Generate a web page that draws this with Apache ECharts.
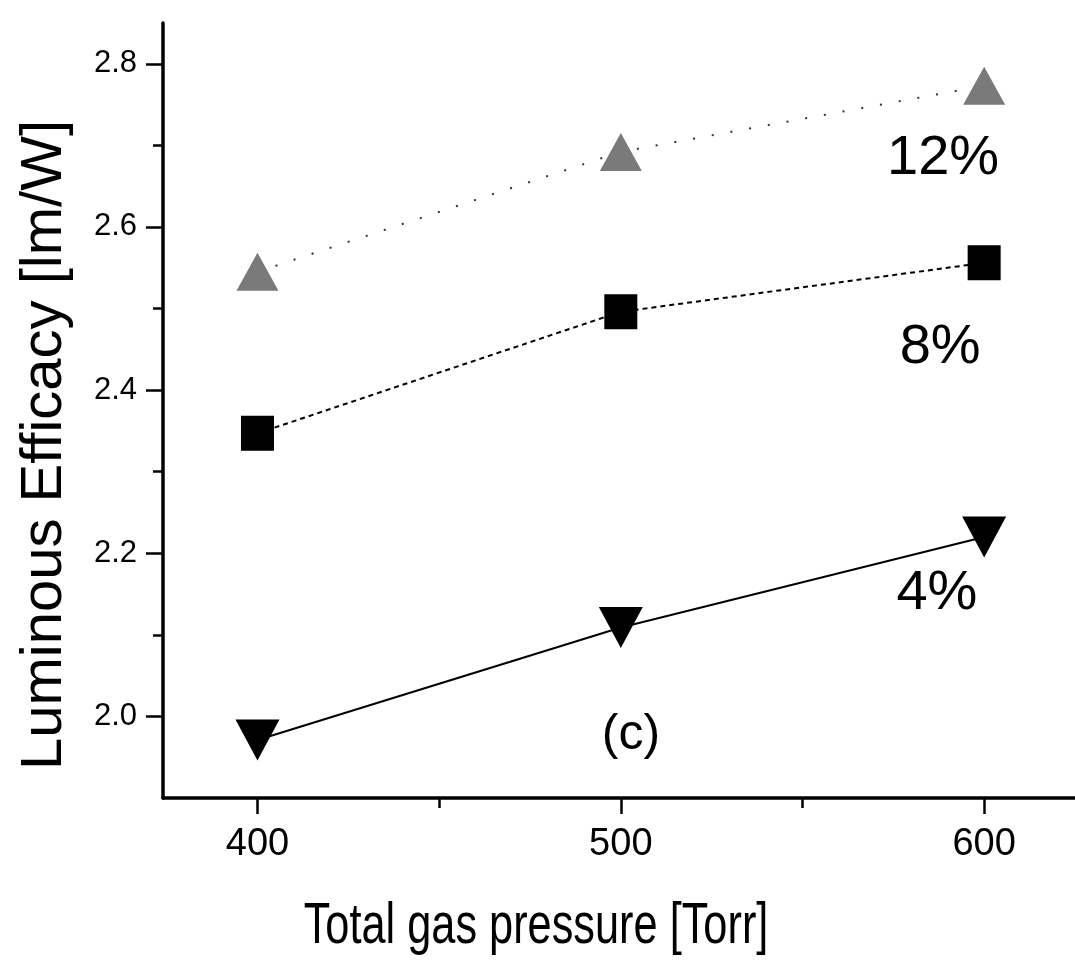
<!DOCTYPE html>
<html>
<head>
<meta charset="utf-8">
<script src="https://cdn.jsdelivr.net/npm/echarts@6/dist/echarts.min.js"></script>
<style>
  html, body { margin: 0; padding: 0; background: #fff; }
  #chart { width: 1075px; height: 964px; }
</style>
</head>
<body>
<div id="chart"></div>
<script>
(function () {
  // total gas pressure [Torr]
  const pressure = [400, 500, 600];
  // luminous efficacy [lm/W] per Xe fraction
  const eff12 = [2.545, 2.692, 2.773];
  const eff8 = [2.347, 2.496, 2.556];
  const eff4 = [1.971, 2.109, 2.220];

  const xMajorTicks = [400, 500, 600];
  const xMinorTicks = [450, 550];
  const yMajorTicks = [2.0, 2.2, 2.4, 2.6, 2.8];
  const yMinorTicks = [2.1, 2.3, 2.5, 2.7];

  // in-plot annotations (data coordinates)
  const noteText = ['12%', '8%', '4%', '(c)'];
  const noteX = [588.7, 587.9, 587.0, 502.8];
  const noteY = [2.684, 2.452, 2.150, 1.977];
  const noteSize = [56, 56, 56, 50];

  const fontFamily = '"Liberation Sans", Arial, Helvetica, sans-serif';
  const ink = '#000';

  const chart = echarts.init(document.getElementById('chart'));

  function pairs(ys) {
    return pressure.map((x, i) => [x, ys[i]]);
  }

  const xRange = { min: 374, max: 625 };
  const yRange = { min: 1.9, max: 2.85 };

  chart.setOption({
    animation: false,
    backgroundColor: '#fff',
    grid: { left: 163, right: 0, top: 23, bottom: 166, containLabel: false },
    xAxis: [
      {
        type: 'value',
        position: 'bottom',
        min: xRange.min,
        max: xRange.max,
        splitLine: { show: false },
        axisLine: { show: true, onZero: false, lineStyle: { color: ink, width: 3.5 } },
        axisTick: { show: true, customValues: xMajorTicks, length: 16, lineStyle: { color: ink, width: 2.5 } },
        axisLabel: {
          customValues: xMajorTicks,
          margin: 28,
          color: ink,
          fontSize: 38,
          fontFamily,
          formatter: (v) => String(Math.round(v)),
        },
      },
      {
        type: 'value',
        position: 'bottom',
        min: xRange.min,
        max: xRange.max,
        splitLine: { show: false },
        axisLine: { show: false, onZero: false },
        axisTick: { show: true, customValues: xMinorTicks, length: 10, lineStyle: { color: ink, width: 2.5 } },
        axisLabel: { show: false },
      },
    ],
    yAxis: [
      {
        type: 'value',
        position: 'left',
        min: yRange.min,
        max: yRange.max,
        splitLine: { show: false },
        axisLine: { show: true, onZero: false, lineStyle: { color: ink, width: 3.5 } },
        axisTick: { show: true, customValues: yMajorTicks, length: 17, lineStyle: { color: ink, width: 2.5 } },
        axisLabel: {
          customValues: yMajorTicks,
          margin: 26,
          color: ink,
          fontSize: 31,
          fontFamily,
          formatter: (v) => v.toFixed(1),
        },
      },
      {
        type: 'value',
        position: 'left',
        min: yRange.min,
        max: yRange.max,
        splitLine: { show: false },
        axisLine: { show: false, onZero: false },
        axisTick: { show: true, customValues: yMinorTicks, length: 10, lineStyle: { color: ink, width: 2.5 } },
        axisLabel: { show: false },
      },
    ],
    series: [
      {
        name: '12%',
        type: 'line',
        data: pairs(eff12),
        symbol: 'triangle',
        symbolSize: [42, 38],
        itemStyle: { color: '#7a7a7a' },
        lineStyle: { color: '#333', width: 2, type: [2, 17] },
        z: 3,
      },
      {
        name: '8%',
        type: 'line',
        data: pairs(eff8),
        symbol: 'rect',
        symbolSize: [33, 35],
        itemStyle: { color: ink },
        lineStyle: { color: ink, width: 2, type: [5, 4] },
        z: 3,
      },
      {
        name: '4%',
        type: 'line',
        data: pairs(eff4),
        symbol: 'triangle',
        symbolRotate: 180,
        symbolSize: [44, 41],
        itemStyle: { color: ink },
        lineStyle: { color: ink, width: 2 },
        z: 3,
      },
      {
        name: 'notes',
        type: 'scatter',
        silent: true,
        symbolSize: 1,
        itemStyle: { color: '#fff', opacity: 1 },
        data: noteText.map((t, i) => ({
          value: [noteX[i], noteY[i]],
          label: {
            show: true,
            position: 'inside',
            formatter: t,
            color: ink,
            opacity: 1,
            textBorderWidth: 0,
            fontSize: noteSize[i],
            fontFamily,
          },
        })),
        z: 4,
      },
    ],
    graphic: [
      {
        type: 'text',
        x: 45,
        y: 445,
        rotation: Math.PI / 2,
        style: {
          text: 'Luminous Efficacy [lm/W]',
          font: '58px ' + fontFamily,
          fill: ink,
          align: 'center',
          verticalAlign: 'middle',
          textAlign: 'center',
          textVerticalAlign: 'middle',
        },
      },
      {
        type: 'text',
        x: 536,
        y: 927,
        scaleX: 0.76,
        style: {
          text: 'Total gas pressure [Torr]',
          font: '57px ' + fontFamily,
          fill: ink,
          align: 'center',
          verticalAlign: 'middle',
          textAlign: 'center',
          textVerticalAlign: 'middle',
        },
      },
    ],
  });

  window.addEventListener('resize', () => chart.resize());
})();
</script>
</body>
</html>
